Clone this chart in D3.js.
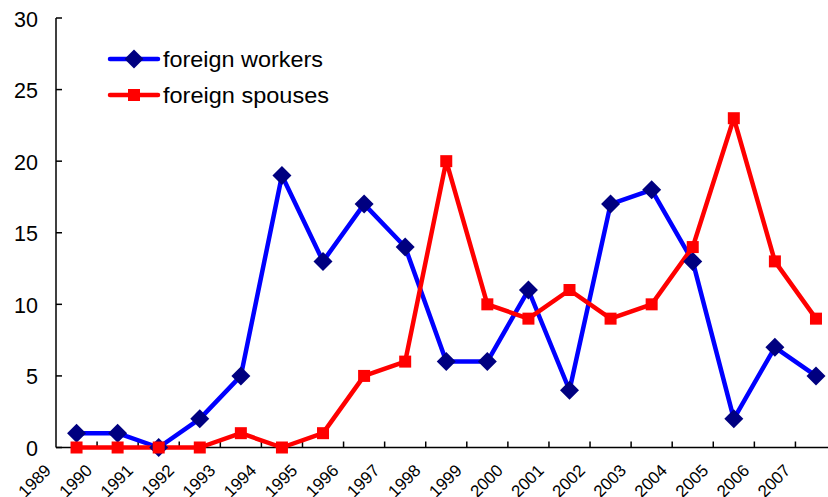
<!DOCTYPE html>
<html><head><meta charset="utf-8">
<script src="https://cdn.jsdelivr.net/npm/d3@7"></script>
<style>body{margin:0;background:#fff}svg{display:block;font-family:"Liberation Sans",Arial,sans-serif}</style>
</head><body><div id="chart"></div>
<script>
const years = ["1989","1990","1991","1992","1993","1994","1995","1996","1997","1998","1999","2000","2001","2002","2003","2004","2005","2006","2007"];
const foreignWorkers = [1,1,0,2,5,19,13,17,14,6,6,11,4,17,18,13,2,7,5];
const foreignSpouses = [0,0,0,0,1,0,1,5,6,20,10,9,11,9,10,14,23,13,9];
const yTicks = [0,5,10,15,20,25,30];
const seriesNames = ["foreign workers","foreign spouses"];

(function () {
const W = 828, H = 497;
const svg = d3.select("#chart").append("svg").attr("width", W).attr("height", H);
const pLeft = 56, pBottom = 447.5, pTop = 18, step = 41.08;
const x = d3.scaleBand().domain(years).range([pLeft, pLeft + step * years.length]).paddingInner(0).paddingOuter(0);
const y = d3.scaleLinear().domain([0, 30]).range([pBottom, pTop]);
const cx = d => x(d) + x.bandwidth() / 2;

// y axis
svg.append("line").attr("x1", pLeft).attr("x2", pLeft).attr("y1", y(30)).attr("y2", pBottom).attr("stroke", "#000").attr("stroke-width", 1.5);
yTicks.forEach(t => {
  svg.append("line").attr("x1", pLeft).attr("x2", pLeft + 6).attr("y1", y(t)).attr("y2", y(t)).attr("stroke", "#000").attr("stroke-width", 1.5);
  svg.append("text").attr("x", 38).attr("y", y(t) + 1.5).attr("text-anchor", "end").attr("dominant-baseline", "central")
    .attr("font-size", 21.5).attr("fill", "#000").text(t);
});
// x axis
svg.append("line").attr("x1", pLeft).attr("x2", W).attr("y1", pBottom).attr("y2", pBottom).attr("stroke", "#000").attr("stroke-width", 1.5);
years.forEach((yr, i) => {
  if (i > 0) svg.append("line").attr("x1", x(yr)).attr("x2", x(yr)).attr("y1", pBottom).attr("y2", pBottom - 6).attr("stroke", "#000").attr("stroke-width", 1.5);
  const ax = cx(yr) - 24.5, ay = 471.5;
  svg.append("text").attr("transform", `translate(${ax},${ay}) rotate(-45)`).attr("text-anchor", "end")
    .attr("font-size", 17).attr("fill", "#000").text(yr);
});

const line = d3.line().x((d, i) => cx(years[i])).y(d => y(d));
svg.append("path").datum(foreignWorkers).attr("d", line).attr("fill", "none").attr("stroke", "#0000FF").attr("stroke-width", 4.5).attr("stroke-linejoin", "round");
svg.append("path").datum(foreignSpouses).attr("d", line).attr("fill", "none").attr("stroke", "#FF0000").attr("stroke-width", 4.5).attr("stroke-linejoin", "round");

const diamond = (px, py, r) => `M${px},${py - r}L${px + r},${py}L${px},${py + r}L${px - r},${py}Z`;
svg.append("g").selectAll("path").data(foreignWorkers).join("path")
  .attr("d", (d, i) => diamond(cx(years[i]), y(d), 9.5)).attr("fill", "#000080");
svg.append("g").selectAll("rect").data(foreignSpouses).join("rect")
  .attr("x", (d, i) => cx(years[i]) - 6).attr("y", d => y(d) - 6).attr("width", 12).attr("height", 12).attr("fill", "#FF0000");

// legend
const lg = svg.append("g");
const legendW = [160, 166];
[[59, "#0000FF", "w"], [95, "#FF0000", "s"]].forEach(([ly, col, k], i) => {
  lg.append("line").attr("x1", 110).attr("x2", 158).attr("y1", ly).attr("y2", ly).attr("stroke", col).attr("stroke-width", 4.5).attr("stroke-linecap", "round");
  if (k === "w") lg.append("path").attr("d", diamond(134, ly, 9.5)).attr("fill", "#000080");
  else lg.append("rect").attr("x", 128).attr("y", ly - 6).attr("width", 12).attr("height", 12).attr("fill", "#FF0000");
  lg.append("text").attr("x", 163).attr("y", ly).attr("dominant-baseline", "central").attr("font-size", 22)
    .attr("textLength", legendW[i]).attr("lengthAdjust", "spacingAndGlyphs").attr("fill", "#000").text(seriesNames[i]);
});
})();
</script></body></html>
